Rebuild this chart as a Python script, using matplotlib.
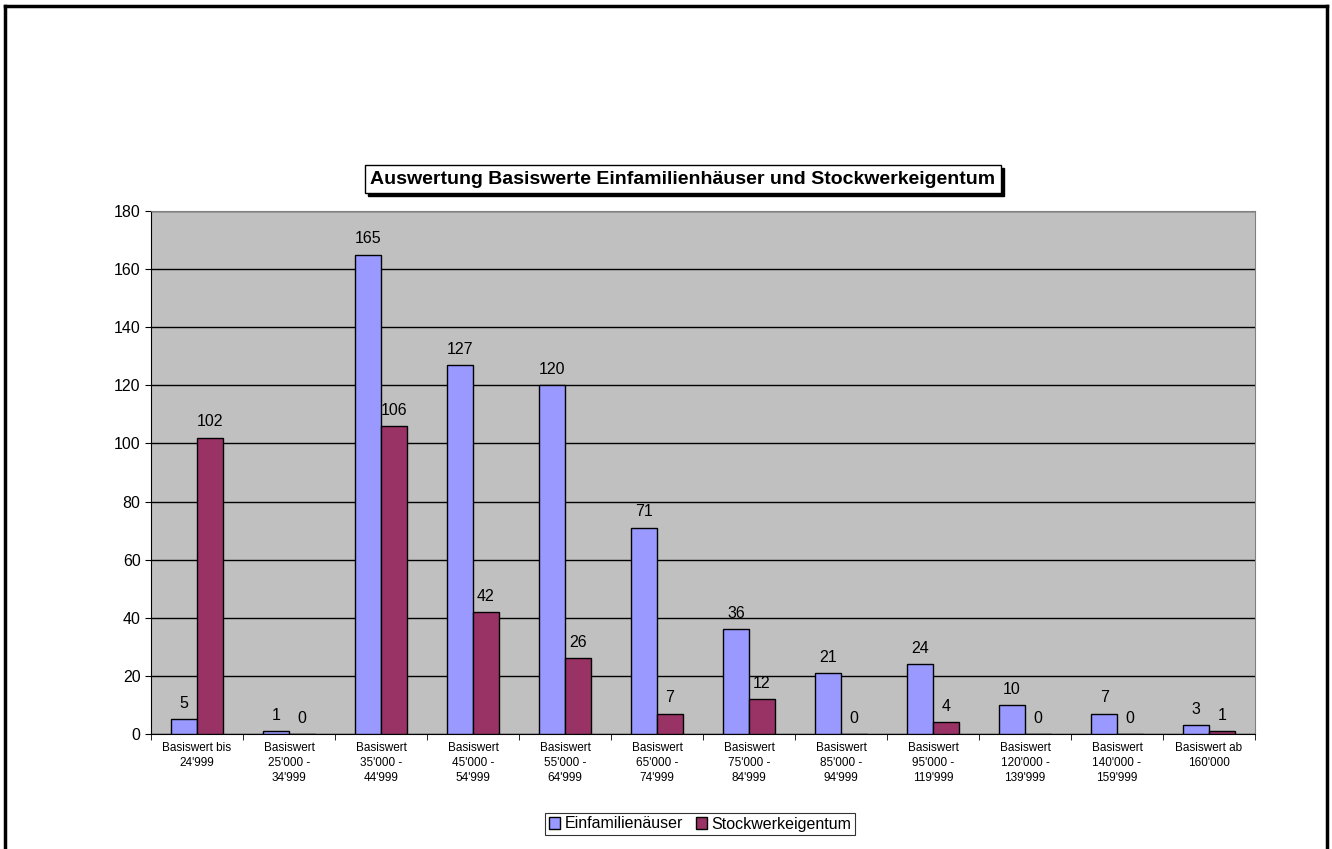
import matplotlib.pyplot as plt
from matplotlib.lines import Line2D
from matplotlib.patches import Rectangle
import numpy as np

plt.rcParams['font.family'] = ['Liberation Sans', 'DejaVu Sans']

categories = ["Basiswert bis\n24'999", "Basiswert\n25'000 -\n34'999", "Basiswert\n35'000 -\n44'999",
              "Basiswert\n45'000 -\n54'999", "Basiswert\n55'000 -\n64'999", "Basiswert\n65'000 -\n74'999",
              "Basiswert\n75'000 -\n84'999", "Basiswert\n85'000 -\n94'999", "Basiswert\n95'000 -\n119'999",
              "Basiswert\n120'000 -\n139'999", "Basiswert\n140'000 -\n159'999", "Basiswert ab\n160'000"]
einfamilien = [5, 1, 165, 127, 120, 71, 36, 21, 24, 10, 7, 3]
stockwerk = [102, 0, 106, 42, 26, 7, 12, 0, 4, 0, 0, 1]
yticks = [0, 20, 40, 60, 80, 100, 120, 140, 160, 180]

fig = plt.figure(figsize=(13.32, 8.49), dpi=100)
ax = fig.add_axes([151 / 1332, 1 - 734 / 849, 1104 / 1332, 523 / 849])
ax.set_facecolor('#C0C0C0')

x = np.arange(len(categories))
w = 0.28
b1 = ax.bar(x - w / 2, einfamilien, w, color='#9999FF', edgecolor='black', linewidth=1,
            label='Einfamilienäuser', zorder=3)
b2 = ax.bar(x + w / 2, stockwerk, w, color='#993366', edgecolor='black', linewidth=1,
            label='Stockwerkeigentum', zorder=3)
for bars in (b1, b2):
    ax.bar_label(bars, padding=6, fontsize=11.5)

ax.set_xlim(-0.5, len(categories) - 0.5)
ax.set_ylim(0, 180)
ax.set_yticks(yticks)
ax.yaxis.grid(True, color='black', linewidth=1)
ax.set_axisbelow(True)
ax.tick_params(axis='y', labelsize=11.5, length=4, direction='out', colors='black')

ax.set_xticks(x)
ax.set_xticklabels(categories, fontsize=8.5, va='top', linespacing=1.3)
ax.tick_params(axis='x', length=0, pad=6)
ax.set_xticks(np.arange(len(categories) + 1) - 0.5, minor=True)
ax.tick_params(axis='x', which='minor', length=4, direction='out')

for side in ('top', 'right'):
    ax.spines[side].set_color('#808080')
ax.spines['left'].set_color('black')
ax.spines['bottom'].set_color('black')

# title box with drop shadow
title = fig.text(683 / 1332, 1 - 179 / 849, 'Auswertung Basiswerte Einfamilienhäuser und Stockwerkeigentum',
                 ha='center', va='center', fontsize=14, fontweight='bold', zorder=5,
                 bbox=dict(boxstyle='square,pad=0.3', facecolor='white', edgecolor='black', linewidth=1))
fig.canvas.draw()
bb = title.get_bbox_patch().get_window_extent().transformed(fig.transFigure.inverted())
fig.add_artist(Rectangle((bb.x0 + 3 / 1332, bb.y0 - 3 / 849), bb.width, bb.height,
                         transform=fig.transFigure, facecolor='black', edgecolor='black', zorder=4))

leg = fig.legend(loc='center', bbox_to_anchor=(700 / 1332, 1 - 824 / 849), ncol=2, fontsize=11.5,
                 frameon=True, fancybox=False, edgecolor='black', handlelength=0.7, handleheight=0.7,
                 handletextpad=0.3, columnspacing=0.8, borderpad=0.25)
leg.get_frame().set_linewidth(0.8)

# outer frame (bottom edge is cut off)
for xs, ys in (([5, 5], [849, 6]), ([5, 1327], [6, 6]), ([1327, 1327], [6, 849])):
    fig.add_artist(Line2D([v / 1332 for v in xs], [1 - v / 849 for v in ys], color='black', linewidth=2.5))

fig.savefig('out.png', dpi=100)
